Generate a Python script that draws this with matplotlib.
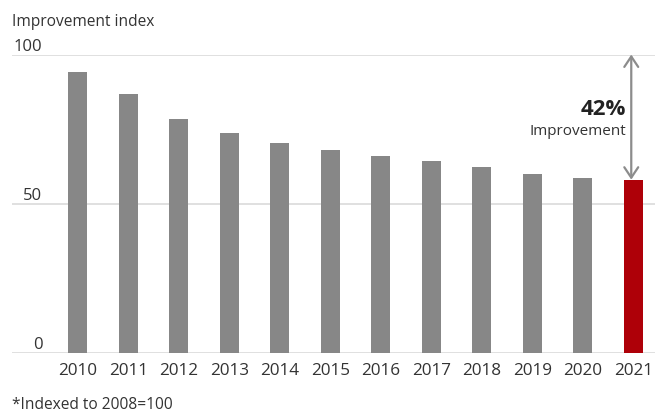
import matplotlib
matplotlib.use("Agg")
import matplotlib.pyplot as plt

# values (index, 2008 = 100)
years = ["2010", "2011", "2012", "2013", "2014", "2015",
         "2016", "2017", "2018", "2019", "2020", "2021"]
index_vals = [94.1, 86.7, 78.4, 73.7, 70.3, 67.9,
              65.9, 64.3, 62.2, 59.9, 58.6, 58.0]
y_ticks = [0, 50, 100]
improvement_label = "42%"

plt.rcParams['font.family'] = ['Open Sans', 'DejaVu Sans']
text_col = "#333333"
grey = "#878787"
red = "#AE0008"

fig = plt.figure(figsize=(6.6, 4.14), dpi=100)
ax = fig.add_axes([12 / 660, (414 - 353.5) / 414, 643 / 660, 298 / 414])

x = list(range(len(years)))
colors = [grey] * (len(years) - 1) + [red]
ax.bar(x, index_vals, width=0.38, color=colors, zorder=3)

ax.set_xlim(-1.30, 11.43)
ax.set_ylim(0, 100)

# gridlines at 50 and 100, baseline at 0
for yv in y_ticks:
    ax.axhline(yv, color="#DDDDDD", lw=1.3, zorder=1)
    ax.text(-0.70, yv + 1.4, str(yv), ha="right", va="baseline",
            fontsize=12, color=text_col)

for s in ax.spines.values():
    s.set_visible(False)
ax.set_yticks([])
ax.set_xticks(x)
ax.set_xticklabels(years, fontsize=12.3, color=text_col)
ax.tick_params(axis="x", length=0, pad=7)

# double-headed arrow from 100 down to the last bar
last = len(years) - 1
ax.annotate("", xy=(last - 0.04, index_vals[-1]), xytext=(last - 0.04, 100),
            arrowprops=dict(arrowstyle="<->,head_length=0.75,head_width=0.5",
                            color="#8C8C8C", lw=1.6, shrinkA=0, shrinkB=0),
            annotation_clip=False, zorder=4)
ax.text(last - 0.14, 82.0, improvement_label, ha="right", va="center",
        fontsize=16, fontweight="bold", color="#222222")
ax.text(last - 0.14, 74.5, "Improvement", ha="right", va="center",
        fontsize=11, color=text_col)

fig.text(12 / 660, 1 - 22 / 414, "Improvement index", ha="left", va="center",
         fontsize=11.2, color=text_col)
fig.text(12 / 660, 1 - 405 / 414, "*Indexed to 2008=100", ha="left",
         va="center", fontsize=11.2, color=text_col)

fig.savefig("out.png", dpi=100)
